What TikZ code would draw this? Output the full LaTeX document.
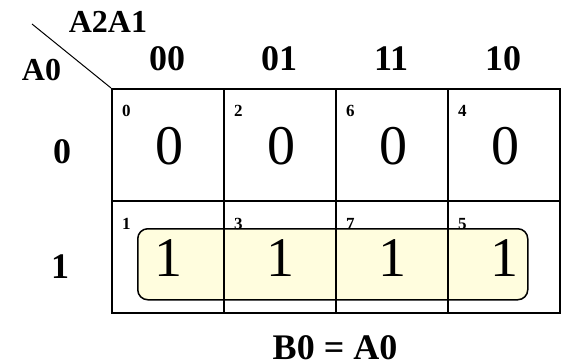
\documentclass[tikz,border=0pt]{standalone}
\usepackage{fontspec}
\setmainfont{Liberation Serif}
\definecolor{grpfill}{RGB}{255,253,222}
\begin{document}
\begin{tikzpicture}[x=1pt,y=-1pt,
  hdr/.style={font=\fontsize{36}{40}\selectfont\bfseries, anchor=base, inner sep=0pt},
  axislbl/.style={font=\fontsize{32}{36}\selectfont\bfseries, anchor=base, inner sep=0pt},
  val/.style={font=\fontsize{56}{60}\selectfont, anchor=base, inner sep=0pt},
  idx/.style={font=\fontsize{17}{20}\selectfont\bfseries, anchor=base west, inner sep=0pt},
  gridln/.style={line width=1.6pt},
  grp/.style={line width=1.5pt, rounded corners=10pt, fill=grpfill, draw=black}]
\useasboundingbox (0,0) rectangle (561,363);
% group of ones
\node[grp, minimum width=390pt, minimum height=71pt, inner sep=0pt, anchor=north west] (group) at (137,228) {};
% grid cells
\foreach \c/\g/\a/\b in {0/00/0/1, 1/01/2/3, 2/11/6/7, 3/10/4/5}{
  \pgfmathsetmacro{\xl}{111+112*\c}
  \pgfmathsetmacro{\xc}{167+112*\c}
  \node[draw, gridln, minimum size=112pt, inner sep=0pt, anchor=north west] (c0\c) at (\xl,88) {};
  \node[draw, gridln, minimum size=112pt, inner sep=0pt, anchor=north west] (c1\c) at (\xl,200) {};
  \node[hdr] (h\c) at (\xc,71) {\g};
  \node[idx] (i0\c) at (\xl+11,117) {\a};
  \node[idx] (i1\c) at (\xl+11,229) {\b};
  \node[val] (v0\c) at (\xc+2,165) {0};
  \node[val] (v1\c) at (\xc+1,276) {1};
}
% row labels
\node[hdr] (r0) at (62,164) {0};
\node[hdr] (r1) at (60,278) {1};
% axis labels
\node[axislbl] (colvar) at (108,33) {A2A1};
\node[axislbl] (rowvar) at (41.5,81) {A0};
\coordinate (dstart) at (32,24);
\draw[line width=1pt] (dstart) -- (c00.north west);
% result
\node[hdr] (eq) at (335,359) {B0 = A0};
\end{tikzpicture}
\end{document}
